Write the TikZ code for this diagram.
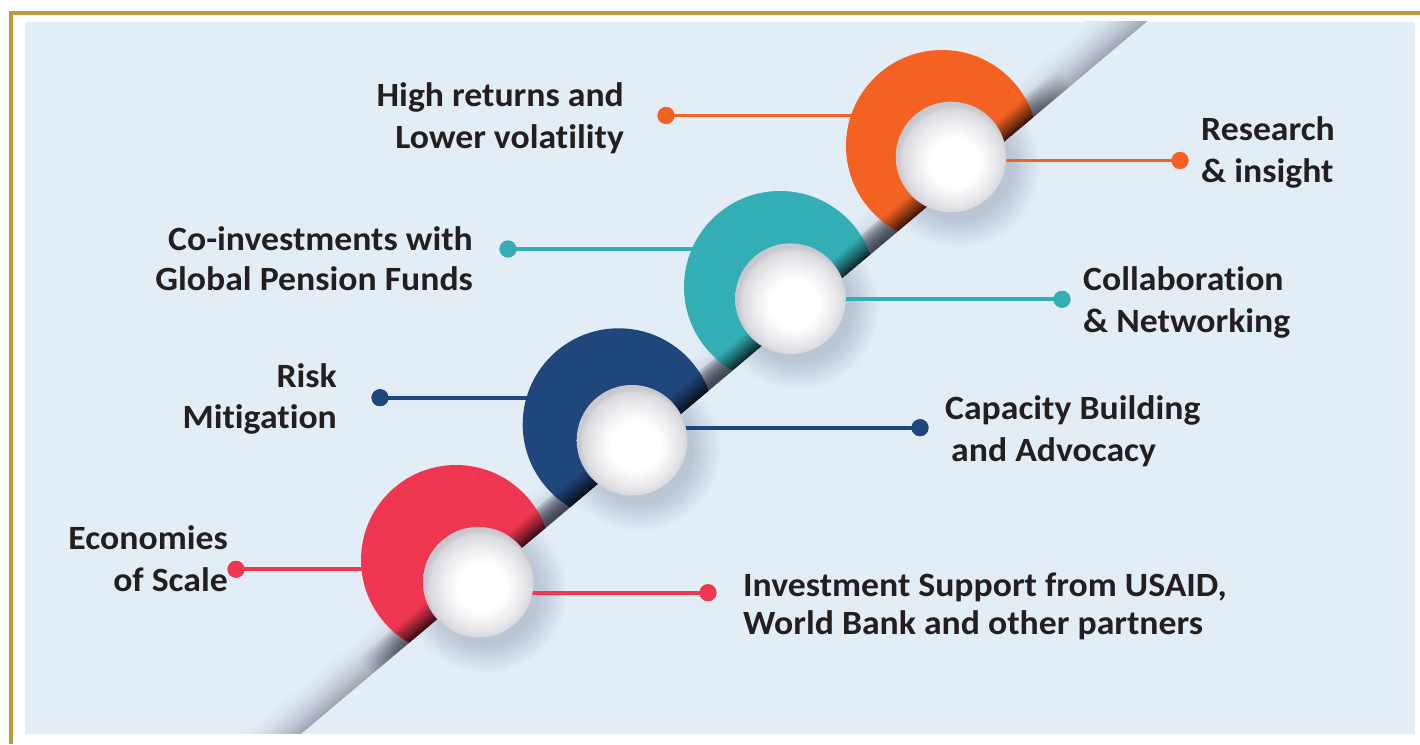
\documentclass[tikz,border=0pt]{standalone}
\usepackage{fontspec}
\usetikzlibrary{fadings,calc}
\newfontfamily\lblfont[FakeStretch=1.05,Ligatures=NoCommon]{Carlito}
\definecolor{gold}{RGB}{190,154,62}
\definecolor{panelbg}{RGB}{226,237,246}
\definecolor{corange}{RGB}{243,97,35}
\definecolor{cteal}{RGB}{51,174,181}
\definecolor{cnavy}{RGB}{31,71,124}
\definecolor{cred}{RGB}{239,55,82}
\definecolor{txt}{RGB}{35,31,32}
\definecolor{bandc}{RGB}{158,166,181}
\definecolor{shadowc}{RGB}{40,44,60}
\definecolor{haloc}{RGB}{186,197,214}
\definecolor{ballmid}{RGB}{236,236,239}
\definecolor{ballnear}{RGB}{218,218,223}
\definecolor{balledge}{RGB}{200,200,206}
\pgfdeclareradialshading{ballw}{\pgfpoint{2bp}{-3bp}}{color(0bp)=(white); color(11bp)=(white); color(18bp)=(ballmid); color(23bp)=(ballnear); color(25bp)=(balledge); color(50bp)=(balledge)}
\pgfdeclareradialshading{halofadesh}{\pgfpointorigin}{color(0bp)=(pgftransparent!0); color(16bp)=(pgftransparent!0); color(25bp)=(pgftransparent!100); color(50bp)=(pgftransparent!100)}
\pgfdeclarefading{halofade}{\pgfuseshading{halofadesh}}
\pgfdeclareradialshading{bandfadesh}{\pgfpointorigin}{color(0bp)=(pgftransparent!0); color(17bp)=(pgftransparent!0); color(25bp)=(pgftransparent!100); color(50bp)=(pgftransparent!100)}
\pgfdeclarefading{bandfade}{\pgfuseshading{bandfadesh}}
\tikzset{
  lbl/.style={font=\lblfont\bfseries\fontsize{34}{40}\selectfont, text=txt, inner sep=0pt},
  lblR/.style={lbl, anchor=base east},
  lblL/.style={lbl, anchor=base west},
  conn/.style={line width=3.8pt},
  dot/.style={circle, inner sep=0pt, minimum size=17pt},
  ball/.style={circle, inner sep=0pt, minimum size=110.6pt, shading=ballw},
  alongline/.style={shift={(302,11)}, rotate=40.1},
}
\begin{document}
\begin{tikzpicture}[x=1pt,y=1pt]
\useasboundingbox (0,0) rectangle (1420,744);
\fill[white] (0,0) rectangle (1420,744);
% gold frame
\fill[gold] (9,729) rectangle (1420,732.5);
\fill[gold] (9,0) rectangle (12.5,732.5);
% panel
\fill[panelbg] (25,10.3) rectangle (1415,722);
% named centres
\coordinate (c1) at (942,598);
\coordinate (c2) at (780,457);
\coordinate (c3) at (618.7,319.7);
\coordinate (c4) at (456,184);
\coordinate (w1) at (951,587);
\coordinate (w2) at (790.5,445.3);
\coordinate (w3) at (632,303.7);
\coordinate (w4) at (478.3,161.8);
\begin{scope}
\clip (25,10.3) rectangle (1415,722);
% diagonal band
\begin{scope}[alongline]
\foreach \i in {0,...,24}{
  \pgfmathsetmacro\p{100*(1-\i/25)^1.8}
  \fill[bandc!\p!panelbg] (-80,{1.6*\i}) rectangle (1250,{1.6*\i+1.9});
}
\end{scope}
% darker band next to the disks
\foreach \c/\r in {c1/96, c2/96, c3/96, c4/95}{
  \foreach \j in {1,...,8}{
    \begin{scope}
    \clip[alongline] (-300,0) rectangle (1500,{2.6*\j});
    \fill[shadowc, fill opacity=0.12, path fading=bandfade] (\c) circle ({\r+45});
    \end{scope}
  }
}
% dots
\node[dot, fill=corange] (dl1) at (666,628.5) {};
\node[dot, fill=cteal]   (dl2) at (508,495) {};
\node[dot, fill=cnavy]   (dl3) at (380,346.3) {};
\node[dot, fill=cred]    (dl4) at (236,174.7) {};
\node[dot, fill=corange] (dr1) at (1180,583.5) {};
\node[dot, fill=cteal]   (dr2) at (1062,444.7) {};
\node[dot, fill=cnavy]   (dr3) at (920,316.3) {};
\node[dot, fill=cred]    (dr4) at (708,151.3) {};
% left connectors (behind disks)
\draw[conn, corange] (dl1.center) -- (dl1.center -| c1);
\draw[conn, cteal]   (dl2.center) -- (dl2.center -| c2);
\draw[conn, cnavy]   (dl3.center) -- (dl3.center -| c3);
\draw[conn, cred]    (dl4.center) -- (dl4.center -| c4);
% halos below the fold line
\begin{scope}
\clip[alongline] (-300,-900) rectangle (1500,0);
\foreach \w in {w1,w2,w3,w4}{
  \fill[haloc, path fading=halofade] ($(\w)+(7,-9)$) circle (82);
}
\end{scope}
% disks above the fold line
\begin{scope}
\clip[alongline] (-300,0) rectangle (1500,900);
\foreach \c/\r/\col in {c1/96/corange, c2/96/cteal, c3/96/cnavy, c4/95/cred}{
  \fill[\col] (\c) circle (\r);
  \begin{scope}
    \clip (\c) circle (\r);
    \begin{scope}[alongline]
    \foreach \i in {0,...,19}{
      \pgfmathsetmacro\q{22+78*(\i/20)^0.9}
      \fill[\col!\q!black] (-80,{\i}) rectangle (1250,{\i+1.3});
    }
    \end{scope}
  \end{scope}
}
\end{scope}
% right connectors
\draw[conn, corange] (dr1.center -| w1) -- (dr1.center);
\draw[conn, cteal]   (dr2.center -| w2) -- (dr2.center);
\draw[conn, cnavy]   (dr3.center -| w3) -- (dr3.center);
\draw[conn, cred]    (dr4.center -| w4) -- (dr4.center);
% redraw dots on top
\node[dot, fill=corange] at (dr1) {};
\node[dot, fill=cteal]   at (dr2) {};
\node[dot, fill=cnavy]   at (dr3) {};
\node[dot, fill=cred]    at (dr4) {};
\node[dot, fill=corange] at (dl1) {};
\node[dot, fill=cteal]   at (dl2) {};
\node[dot, fill=cnavy]   at (dl3) {};
\node[dot, fill=cred]    at (dl4) {};
% white balls
\node[ball] (b1) at (w1) {};
\node[ball] (b2) at (w2) {};
\node[ball] (b3) at (w3) {};
\node[ball] (b4) at (w4) {};
\end{scope}
% labels
\node[lblR] (t1a) at (624,637) {High returns and};
\node[lblR] (t1b) at (624,595) {Lower volatility};
\node[lblL] (t2a) at (1201,603) {Research};
\node[lblL] (t2b) at (1201,561) {\& insight};
\node[lblR] (t3a) at (473,493) {Co-investments with};
\node[lblR] (t3b) at (473,453) {Global Pension Funds};
\node[lblL] (t4a) at (1083,453) {Collaboration};
\node[lblL] (t4b) at (1083,411) {\& Networking};
\node[lblR] (t5a) at (337,356) {Risk};
\node[lblR] (t5b) at (337,315) {Mitigation};
\node[lblL] (t6a) at (945,324) {Capacity Building};
\node[lblL] (t6b) at (951,282) {and Advocacy};
\node[lblR] (t7a) at (228,194) {Economies};
\node[lblR] (t7b) at (228,152) {of Scale};
\node[lblL] (t8a) at (743,147.3) {Investment Support from USAID,};
\node[lblL] (t8b) at (743,109.5) {World Bank and other partners};
\end{tikzpicture}
\end{document}
